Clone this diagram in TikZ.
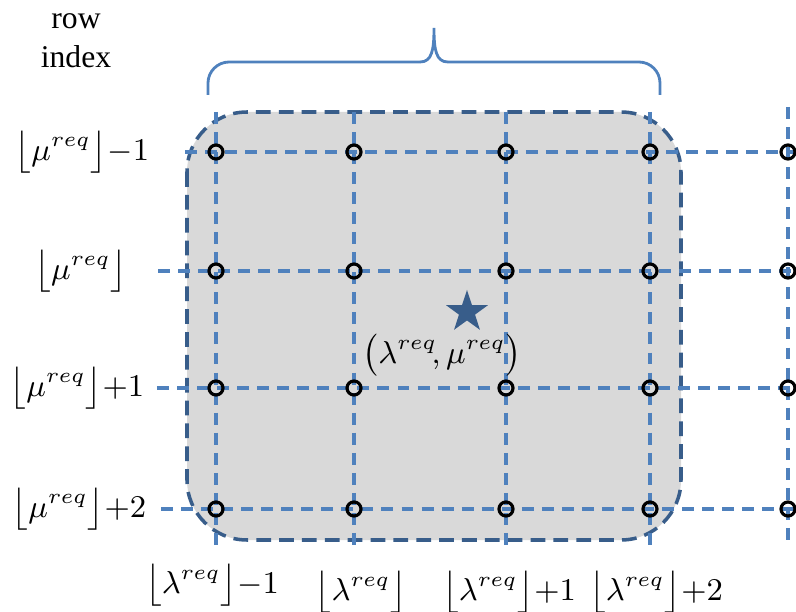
\documentclass[tikz,border=0pt]{standalone}
\usepackage{fontspec}
\setmainfont{Liberation Serif}
\usetikzlibrary{shapes.geometric}

\definecolor{gridblue}{HTML}{4F81BD}
\definecolor{darkblue}{HTML}{385D8A}
\definecolor{regiongray}{HTML}{D9D9D9}

\newcommand{\flr}[1]{\bigl\lfloor#1\bigr\rfloor}

\begin{document}
\begin{tikzpicture}[
    x=0.01cm, y=-0.01cm,
    node font=\fontsize{9}{11}\selectfont,
    region/.style={draw=darkblue, fill=regiongray, line width=1pt, dash pattern=on 4.2pt off 2.3pt, rounded corners=0.6cm},
    gridline/.style={draw=gridblue, line width=0.95pt, dash pattern=on 3.4pt off 2.3pt},
    sample/.style={circle, draw=black, line width=0.9pt, inner sep=0pt, minimum size=0.14cm},
    bracket/.style={draw=gridblue, line width=0.8pt},
    target/.style={star, star points=5, star point ratio=2.6, fill=darkblue, inner sep=0pt, minimum size=0.44cm}
]
    \useasboundingbox (0,0) rectangle (796,612);

    % shaded region
    \path[region] (187,112) rectangle (681,540);

    % grid points
    \foreach \x [count=\i] in {216,354,506,650,788} {
        \foreach \y [count=\j] in {152,271,388,509}
            \coordinate (p\i\j) at (\x,\y);
    }
    \foreach \x [count=\i] in {216,354,506,650} {
        \coordinate (top\i) at (\x,112);
        \coordinate (bot\i) at (\x,545);
    }
    \coordinate (top5) at (788,107);
    \coordinate (bot5) at (788,540);
    \foreach \x [count=\j] in {185,158,157,161} {
        \coordinate (left\j) at (\x,0 |- p1\j);
        \coordinate (right\j) at (796,0 |- p1\j);
    }

    % dashed grid
    \foreach \i in {1,...,5}
        \draw[gridline] (top\i) -- (bot\i);
    \foreach \j in {1,...,4}
        \draw[gridline] (left\j) -- (right\j);

    \foreach \i in {1,...,5} {
        \foreach \j in {1,...,4}
            \node[sample] (s\i\j) at (p\i\j) {};
    }

    % brace over the columns
    \draw[bracket, rounded corners=6pt] (208,95) -- (208,62) -- (420,62);
    \draw[bracket] (420,62) .. controls (432,62) and (434,50) .. (434,28)
                            .. controls (434,50) and (436,62) .. (448,62);
    \draw[bracket, rounded corners=6pt] (448,62) -- (660,62) -- (660,95);

    % requested point
    \node[target] (req) at (467,312) {};
    \node (reqlabel) at (442,355) {$\bigl(\lambda^{req}\!,\mu^{req}\bigr)$};

    % row labels
    \node[align=center] (rowidx) at (76,41) {row\\index};
    \node (mu1) at (82,152) {$\flr{\mu^{req}}{-}1$};
    \node (mu2) at (81,271) {$\flr{\mu^{req}}$};
    \node (mu3) at (77,388) {$\flr{\mu^{req}}{+}1$};
    \node (mu4) at (79,509) {$\flr{\mu^{req}}{+}2$};

    % column labels
    \node (lam1) at (212,585) {$\flr{\lambda^{req}}{-}1$};
    \node (lam2) at (361,592) {$\flr{\lambda^{req}}$};
    \node (lam3) at (509,592) {$\flr{\lambda^{req}}{+}1$};
    \node (lam4) at (656,592) {$\flr{\lambda^{req}}{+}2$};
\end{tikzpicture}
\end{document}
